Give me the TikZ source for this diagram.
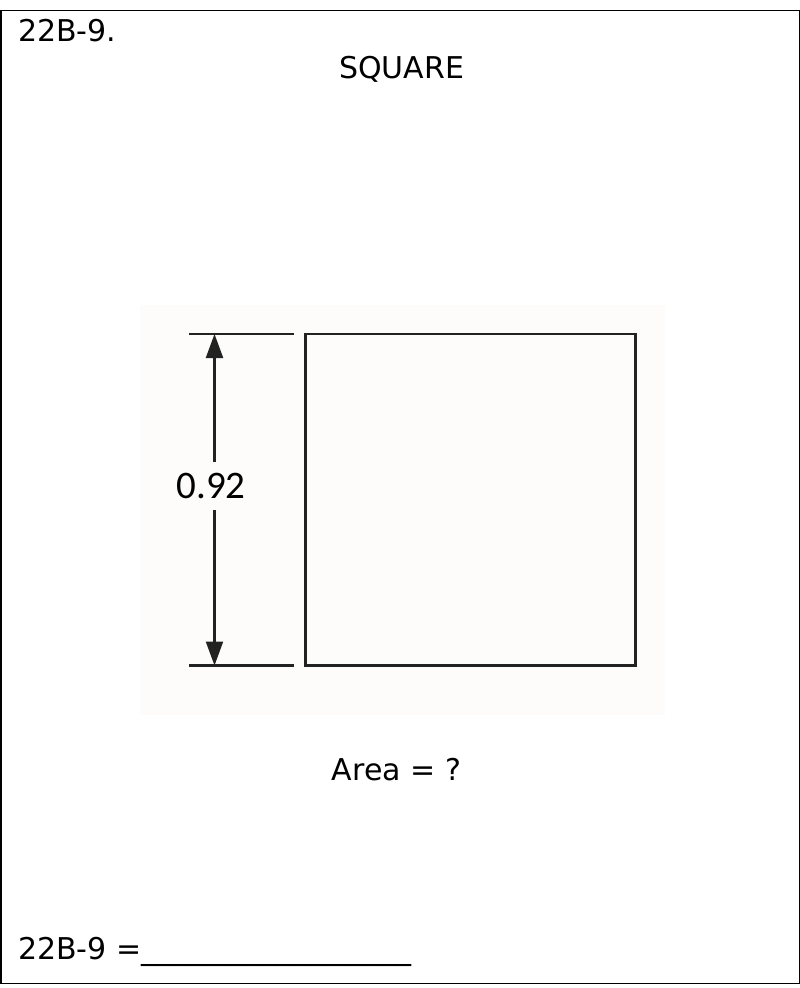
\documentclass[tikz,border=0pt]{standalone}
\usepackage{fontspec}
\setmainfont{DejaVu Sans}
\newfontfamily\dimfont{Carlito}
\usetikzlibrary{arrows.meta}
\definecolor{scanBg}{RGB}{253,252,251}
\definecolor{inkGray}{RGB}{34,34,34}

\begin{document}
\begin{tikzpicture}[x=1pt, y=-1pt,
    txt/.style={inner sep=0pt, font=\fontsize{30}{36}\selectfont},
    figline/.style={inkGray, line width=2.4pt},
    dimarrow/.style={inkGray, line width=2.2pt, -{Triangle[length=24pt, width=17pt]}}]
				\useasboundingbox (0,0) rectangle (800,988);
				\draw[line width=1.5pt] (1,10.5) rectangle (800,983.5);
				\fill[scanBg] (140,305) rectangle (665,715);
				\node[txt, anchor=base west] (num) at (18,41) {22B-9.};
				\node[txt, anchor=base] (title) at (401.5,78) {SQUARE};
				% the square and its dimension
				\coordinate (sqa) at (305.5,334); \coordinate (sqb) at (635.5,665.5);
				\draw[figline] (sqa) rectangle (sqb);
				\coordinate (exta) at (189,334); \coordinate (extb) at (294,334);
				\coordinate (extc) at (189,665.5); \coordinate (extd) at (294,665.5);
				\draw[figline] (exta) -- (extb); \draw[figline] (extc) -- (extd);
				\coordinate (dimtop) at (214.5,334); \coordinate (dimbot) at (214.5,665.5);
				\node[inner sep=0pt, font=\dimfont\fontsize{39}{44}\selectfont, anchor=base] (dim) at (211,498) {0.92};
				\draw[dimarrow] (dimtop |- 0,462) -- (dimtop);
				\draw[dimarrow] (dimbot |- 0,510) -- (dimbot);
				\node[txt, anchor=base] (area) at (396.5,780) {Area = ?};
				\node[txt, anchor=base west] (answer) at (18,959) {22B-9 =\_\_\_\_\_\_\_\_\_\_\_\_\_\_\_\_\_\_};
			\end{tikzpicture}
\end{document}
